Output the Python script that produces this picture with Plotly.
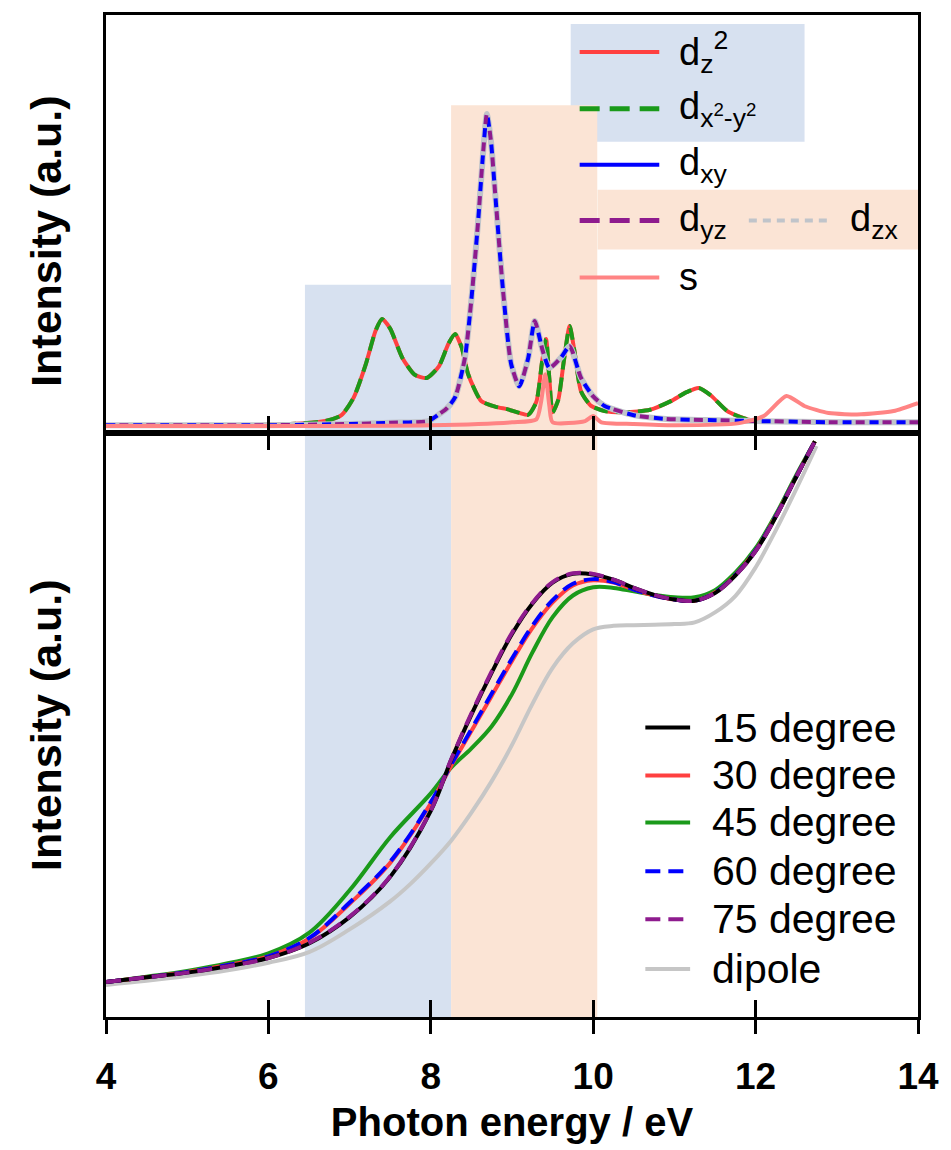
import plotly.graph_objects as go

# ---------------- data ----------------
# top panel: orbital-resolved spectra (arbitrary units, 0..100)
E_d1 = [4.0, 5.0, 6.0, 6.4, 6.7, 6.9, 7.05, 7.2, 7.32, 7.4, 7.5, 7.65, 7.8, 7.95, 8.1, 8.22, 8.3,
        8.38, 8.46, 8.62, 8.8, 8.95, 9.1, 9.2, 9.3, 9.37, 9.42, 9.46, 9.5, 9.57, 9.64, 9.71, 9.77,
        9.85, 9.97, 10.14, 10.4, 10.7, 10.95, 11.15, 11.3, 11.45, 11.65, 11.9, 12.2, 13.0, 14.0]
dz2 = [1.9, 1.9, 2.0, 2.3, 2.9, 4.3, 8.5, 16.5, 24.5, 27.3, 25.0, 18.0, 14.0, 13.2, 16.0, 21.5, 23.7,
       20.5, 14.1, 7.7, 6.3, 5.7, 4.8, 4.4, 7.5, 17.0, 22.5, 13.0, 5.0, 8.0, 17.5, 25.6, 19.5,
       10.0, 6.6, 5.3, 5.0, 5.6, 7.6, 9.8, 10.8, 9.0, 5.3, 3.3, 2.8, 2.6, 2.6]
dx2y2 = [1.9, 1.9, 2.0, 2.3, 2.9, 4.3, 8.5, 16.5, 24.5, 27.3, 25.0, 18.0, 14.0, 13.2, 16.0, 21.5, 23.7,
         20.5, 14.1, 7.7, 6.3, 5.7, 4.8, 4.4, 7.5, 17.0, 22.5, 13.0, 5.0, 8.0, 17.5, 25.6, 19.5,
         10.0, 6.6, 5.3, 5.0, 5.6, 7.6, 9.8, 10.8, 9.0, 5.3, 3.3, 2.8, 2.6, 2.6]

E_d2 = [4.0, 6.0, 7.0, 7.5, 7.97, 8.1, 8.2, 8.3, 8.42, 8.5, 8.58, 8.64, 8.69, 8.74, 8.79, 8.89, 8.99,
        9.09, 9.2, 9.28, 9.38, 9.46, 9.6, 9.71, 9.85, 10.0, 10.14, 10.5, 10.9, 11.5, 12.0, 13.0, 14.0]
dxy = [1.9, 1.9, 2.2, 2.5, 2.9, 4.5, 6.0, 8.6, 18.0, 32.0, 50.0, 66.0, 76.3, 70.0, 58.0, 34.0, 16.5,
       11.2, 18.0, 26.8, 19.6, 15.6, 18.0, 20.8, 13.2, 8.8, 6.5, 4.3, 3.4, 3.1, 2.9, 2.6, 2.6]
dyz = [1.9, 1.9, 2.2, 2.5, 2.9, 4.5, 6.0, 8.6, 18.0, 32.0, 50.0, 66.0, 76.3, 70.0, 58.0, 34.0, 16.5,
       11.2, 18.0, 26.8, 19.6, 15.6, 18.0, 20.8, 13.2, 8.8, 6.5, 4.3, 3.4, 3.1, 2.9, 2.6, 2.6]
dzx = [1.9, 1.9, 2.2, 2.5, 2.9, 4.5, 6.0, 8.6, 18.0, 32.0, 50.0, 66.0, 76.3, 70.0, 58.0, 34.0, 16.5,
       11.2, 18.0, 26.8, 19.6, 15.6, 18.0, 20.8, 13.2, 8.8, 6.5, 4.3, 3.4, 3.1, 2.9, 2.6, 2.6]

E_s = [4.0, 8.0, 9.0, 9.3, 9.36, 9.41, 9.46, 9.5, 9.9, 10.0, 10.1, 10.5, 11.0, 11.8, 12.1, 12.38,
       12.6, 12.9, 13.3, 13.7, 14.0]
s_orb = [1.7, 1.9, 2.6, 3.3, 7.7, 14.1, 6.5, 2.6, 2.9, 4.1, 2.6, 2.2, 1.9, 2.4, 4.1, 8.9,
         6.5, 4.8, 4.5, 5.3, 7.2]

# bottom panel: angle-dependent spectra (arbitrary units, 0..100)
E_bot = [4.0, 4.5, 5.0, 5.5, 6.0, 6.5, 7.0, 7.5, 8.0, 8.25, 8.5, 8.75, 9.0, 9.25, 9.5, 9.75, 10.0,
         10.25, 10.5, 10.75, 11.0, 11.25, 11.5, 11.75, 12.0, 12.25, 12.5, 12.73]
deg15 = [6.0, 6.8, 7.6, 8.7, 10.1, 12.6, 17.1, 24.0, 35.3, 44.0, 51.8, 59.0, 65.6, 70.8, 74.4, 75.9,
         75.8, 74.9, 73.5, 72.3, 71.5, 71.3, 72.6, 75.6, 79.8, 85.7, 92.5, 98.6]
deg30 = [6.0, 6.8, 7.7, 8.9, 10.4, 13.4, 19.4, 26.4, 36.6, 43.0, 49.0, 55.0, 61.0, 66.6, 71.0, 73.9,
         74.8, 74.4, 73.2, 72.2, 71.5, 71.3, 72.7, 75.7, 79.9, 85.8, 92.5, 98.6]
deg45 = [6.0, 6.9, 7.9, 9.2, 10.9, 14.4, 21.7, 30.8, 38.3, 42.7, 46.0, 49.8, 55.3, 62.4, 68.5, 72.2,
         73.6, 73.5, 72.9, 72.3, 71.9, 71.9, 73.1, 76.1, 80.3, 86.1, 92.8, 98.6]
deg60 = [6.0, 6.8, 7.7, 8.9, 10.4, 13.5, 19.6, 26.6, 36.8, 43.2, 49.3, 55.4, 61.4, 67.0, 71.4, 74.2,
         75.0, 74.5, 73.2, 72.2, 71.5, 71.3, 72.7, 75.7, 79.9, 85.8, 92.5, 98.6]
deg75 = [6.0, 6.8, 7.6, 8.7, 10.1, 12.7, 17.2, 24.1, 35.4, 44.1, 52.0, 59.2, 65.8, 70.9, 74.5, 76.0,
         75.9, 74.9, 73.5, 72.3, 71.5, 71.3, 72.6, 75.6, 79.8, 85.7, 92.5, 98.6]
E_dip = [4.0, 4.5, 5.0, 5.5, 6.0, 6.5, 7.0, 7.5, 7.75, 8.0, 8.25, 8.5, 8.75, 9.0, 9.25, 9.5, 9.75, 10.0,
         10.25, 10.5, 10.75, 11.0, 11.25, 11.5, 11.75, 12.0, 12.25, 12.5, 12.75]
dipole = [5.5, 6.2, 7.0, 8.0, 9.3, 11.1, 15.0, 19.8, 22.8, 26.3, 30.2, 35.0, 40.4, 46.6, 53.6, 59.8, 64.0,
          66.4, 67.0, 67.1, 67.2, 67.3, 67.6, 69.3, 72.1, 77.0, 83.4, 90.4, 97.8]

# shaded energy windows
band_edges = [6.45, 8.25, 10.05]
band_tops_upper = [35.5, 78.4]

x_ticks = [4, 6, 8, 10, 12, 14]
x_range = [4, 14]

# ---------------- layout helpers ----------------
W, H = 951, 1150
ML, MR, MT, MB = 106, 29, 13, 133
PW, PH = W - ML - MR, H - MT - MB
DIV_PY = 432  # pixel row of the divider


def xp(px):
    return (px - ML) / PW


def yp(py):
    return (H - MB - py) / PH


split = yp(DIV_PY)

BLUE_BG = "#D7E1F0"
ORANGE_BG = "#FBE4D5"
C_RED = "#FF4040"
C_GREEN = "#1A9A1A"
C_BLUE = "#0000FF"
C_PURPLE = "#8E1B8E"
C_LGRAY = "#C0C4CA"
C_PINK = "#FF8484"
C_GRAYDIP = "#C6C6C6"

fig = go.Figure()

sp = dict(shape="spline", smoothing=0.6)

# top panel traces
fig.add_trace(go.Scatter(x=E_d1, y=dz2, mode="lines", line=dict(color=C_RED, width=4, **sp),
                         xaxis="x", yaxis="y", showlegend=False, name="dz2"))
fig.add_trace(go.Scatter(x=E_d1, y=dx2y2, mode="lines", line=dict(color=C_GREEN, width=4, dash="14px,8px", **sp),
                         xaxis="x", yaxis="y", showlegend=False, name="dx2-y2"))
fig.add_trace(go.Scatter(x=E_d2, y=dzx, mode="lines", line=dict(color=C_LGRAY, width=6, **sp),
                         xaxis="x", yaxis="y", showlegend=False, name="dzx"))
fig.add_trace(go.Scatter(x=E_d2, y=dxy, mode="lines", line=dict(color=C_BLUE, width=4, dash="9px,18px", **sp),
                         xaxis="x", yaxis="y", showlegend=False, name="dxy"))
fig.add_trace(go.Scatter(x=E_d2, y=dyz, mode="lines", line=dict(color=C_PURPLE, width=4, dash="0px,13px,9px,5px", **sp),
                         xaxis="x", yaxis="y", showlegend=False, name="dyz"))
fig.add_trace(go.Scatter(x=E_s, y=s_orb, mode="lines", line=dict(color=C_PINK, width=4, **sp),
                         xaxis="x", yaxis="y", showlegend=False, name="s"))

# bottom panel traces
fig.add_trace(go.Scatter(x=E_dip, y=dipole, mode="lines", line=dict(color=C_GRAYDIP, width=4, shape="spline"),
                         xaxis="x2", yaxis="y2", showlegend=False, name="dipole"))
fig.add_trace(go.Scatter(x=E_bot, y=deg45, mode="lines", line=dict(color=C_GREEN, width=4, shape="spline"),
                         xaxis="x2", yaxis="y2", showlegend=False, name="45 degree"))
fig.add_trace(go.Scatter(x=E_bot, y=deg30, mode="lines", line=dict(color=C_RED, width=4, shape="spline"),
                         xaxis="x2", yaxis="y2", showlegend=False, name="30 degree"))
fig.add_trace(go.Scatter(x=E_bot, y=deg60, mode="lines", line=dict(color=C_BLUE, width=4, dash="15px,8px", shape="spline"),
                         xaxis="x2", yaxis="y2", showlegend=False, name="60 degree"))
fig.add_trace(go.Scatter(x=E_bot, y=deg15, mode="lines", line=dict(color="#000000", width=4, shape="spline"),
                         xaxis="x2", yaxis="y2", showlegend=False, name="15 degree"))
fig.add_trace(go.Scatter(x=E_bot, y=deg75, mode="lines", line=dict(color=C_PURPLE, width=4, dash="15px,8px", shape="spline"),
                         xaxis="x2", yaxis="y2", showlegend=False, name="75 degree"))
# empty trace so the overlaid tick axis (outer half of the crossing ticks) gets drawn
fig.add_trace(go.Scatter(x=[], y=[], mode="lines", xaxis="x3", yaxis="y2", showlegend=False,
                         hoverinfo="skip"))

shapes = []
# shaded windows in the top panel
for i, col in enumerate([BLUE_BG, ORANGE_BG]):
    shapes.append(dict(type="rect", xref="x", yref="y", x0=band_edges[i], x1=band_edges[i + 1],
                       y0=0, y1=band_tops_upper[i], fillcolor=col, line=dict(width=0), layer="below"))
    shapes.append(dict(type="rect", xref="x2", yref="y2 domain", x0=band_edges[i], x1=band_edges[i + 1],
                       y0=0, y1=1, fillcolor=col, line=dict(width=0), layer="below"))

# top legend backgrounds
shapes.append(dict(type="rect", xref="paper", yref="paper", x0=xp(573), x1=xp(808), y0=yp(140), y1=yp(22),
                   fillcolor=BLUE_BG, line=dict(width=0), layer="below"))
shapes.append(dict(type="rect", xref="paper", yref="paper", x0=xp(600), x1=1.0, y0=yp(248), y1=yp(188),
                   fillcolor=ORANGE_BG, line=dict(width=0), layer="below"))

annotations = []
FONT = "Liberation Sans, Arial, sans-serif"

# top legend entries (sample line + label)
top_rows = [
    (50, C_RED, 4, "solid", "d<sub>z</sub><sup>2</sup>"),
    (107, C_GREEN, 5, "20px,10px", "d<sub>x<sup>2</sup>-y<sup>2</sup></sub>"),
    (163, C_BLUE, 4, "solid", "d<sub>xy</sub>"),
    (219, C_PURPLE, 5, "20px,10px", "d<sub>yz</sub>"),
    (276, C_PINK, 4, "solid", "s"),
]
for py, col, w, dash, label in top_rows:
    shapes.append(dict(type="line", xref="paper", yref="paper", x0=xp(582), x1=xp(662), y0=yp(py), y1=yp(py),
                       line=dict(color=col, width=w, dash=dash)))
    annotations.append(dict(xref="paper", yref="paper", x=xp(680), y=yp(py), xanchor="left", yanchor="middle",
                            text=label, showarrow=False, font=dict(family=FONT, size=38, color="#000")))
# d_zx on the same row as d_yz
shapes.append(dict(type="line", xref="paper", yref="paper", x0=xp(752), x1=xp(833), y0=yp(219), y1=yp(219),
                   line=dict(color=C_LGRAY, width=4, dash="8px,6px")))
annotations.append(dict(xref="paper", yref="paper", x=xp(852), y=yp(219), xanchor="left", yanchor="middle",
                        text="d<sub>zx</sub>", showarrow=False, font=dict(family=FONT, size=38, color="#000")))

# bottom legend entries
bot_rows = [
    (727, "#000000", "solid", "15 degree"),
    (775, C_RED, "solid", "30 degree"),
    (822, C_GREEN, "solid", "45 degree"),
    (871, C_BLUE, "15px,8px", "60 degree"),
    (919, C_PURPLE, "15px,8px", "75 degree"),
    (969, C_GRAYDIP, "solid", "dipole"),
]
for py, col, dash, label in bot_rows:
    shapes.append(dict(type="line", xref="paper", yref="paper", x0=xp(648), x1=xp(693), y0=yp(py), y1=yp(py),
                       line=dict(color=col, width=4, dash=dash)))
    annotations.append(dict(xref="paper", yref="paper", x=xp(713), y=yp(py), xanchor="left", yanchor="middle",
                            text=label, showarrow=False, font=dict(family=FONT, size=41, color="#000")))

# y-axis titles placed as rotated text, centred where the reference has them
for py in (240, 725):
    annotations.append(dict(xref="paper", yref="paper", x=xp(45), y=yp(py), xanchor="center", yanchor="middle",
                            text="<b>Intensity (a.u.)</b>", textangle=-90, showarrow=False,
                            font=dict(family=FONT, size=43, color="#000")))

axis_common = dict(showline=True, linecolor="#000", linewidth=3, showgrid=False, zeroline=False)

fig.update_layout(
    width=W, height=H,
    margin=dict(l=ML, r=MR, t=MT, b=MB),
    paper_bgcolor="white", plot_bgcolor="rgba(0,0,0,0)",
    showlegend=False,
    shapes=shapes, annotations=annotations,
    xaxis=dict(**axis_common, domain=[0, 1], anchor="y", range=x_range, mirror=True,
               tickvals=x_ticks, ticks="inside", ticklen=17, tickwidth=3, tickcolor="#000",
               showticklabels=False),
    yaxis=dict(**axis_common, domain=[split, 1], anchor="x", range=[0, 100], mirror=True,
               showticklabels=False, ticks=""),
    xaxis2=dict(**axis_common, domain=[0, 1], anchor="y2", range=x_range, mirror="ticks",
                tickvals=x_ticks, ticks="inside", ticklen=17, tickwidth=3, tickcolor="#000",
                showticklabels=True, ticklabelstandoff=25,
                tickfont=dict(family=FONT, size=37, color="#000", weight="bold"),
                title=dict(text="<b>Photon energy / eV</b>", font=dict(family=FONT, size=40, color="#000"),
                           standoff=12)),
    xaxis3=dict(overlaying="x2", anchor="y2", range=x_range, tickvals=x_ticks, ticks="outside",
                ticklen=16, tickwidth=3, tickcolor="#000", showticklabels=False, showline=False,
                showgrid=False, zeroline=False, side="bottom"),
    yaxis2=dict(**axis_common, domain=[0, split], anchor="x2", range=[0, 100], mirror=True,
                showticklabels=False, ticks=""),
)

fig.write_html("out.html")
